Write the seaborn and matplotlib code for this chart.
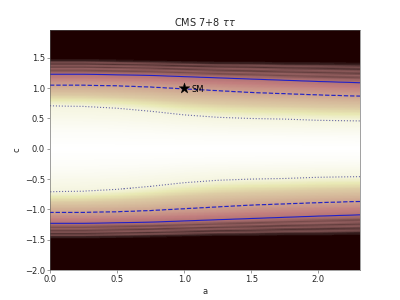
import numpy as np
import pandas as pd
import matplotlib
matplotlib.use("Agg")
import matplotlib.pyplot as plt
import seaborn as sns

# ---- data ----
a_knots = [0.0, 0.25, 0.5, 0.75, 1.0, 1.25, 1.5, 1.75, 2.0, 2.3]
c_68 = [0.71, 0.70, 0.67, 0.62, 0.56, 0.52, 0.50, 0.49, 0.47, 0.46]   # dotted contour |c|
c_95 = [1.05, 1.05, 1.04, 1.02, 0.99, 0.96, 0.93, 0.91, 0.89, 0.87]   # dashed contour |c|
c_99 = [1.23, 1.23, 1.22, 1.21, 1.19, 1.17, 1.15, 1.13, 1.11, 1.09]   # solid contour |c|
c_edge = [1.49, 1.49, 1.48, 1.47, 1.46, 1.45, 1.45, 1.44, 1.44, 1.43] # dark region begins
inner_pos = [0.0, 0.4, 1.0, 1.5, 2.0, 3.0]     # in contour-level units
inner_shade = [1.0, 0.97, 0.88, 0.62, 0.47, 0.31]
band_pos = [0.0, 0.15, 0.25, 0.35, 0.45, 0.55, 0.65, 0.75, 0.85, 1.0]  # solid -> edge
band_shade = [0.31, 0.23, 0.13, 0.21, 0.09, 0.18, 0.06, 0.14, 0.03, 0.0]
sm_point = {"a": [1.0], "c": [1.0], "label": ["SM"]}
title = r"CMS 7+8 $\tau\tau$"
x_ticks = [0.0, 0.5, 1.0, 1.5, 2.0]
y_ticks = [-2.0, -1.5, -1.0, -0.5, 0.0, 0.5, 1.0, 1.5]

# ---- build the likelihood-like field ----
a_grid = np.linspace(0.0, 2.31, 232)
c_grid = np.linspace(-2.0, 1.96, 397)
A, C = np.meshgrid(a_grid, c_grid)
level = np.zeros_like(A)
shade = np.zeros_like(A)
absc = np.abs(c_grid)
for j, av in enumerate(a_grid):
    d68 = np.interp(av, a_knots, c_68)
    d95 = np.interp(av, a_knots, c_95)
    d99 = np.interp(av, a_knots, c_99)
    edge = np.interp(av, a_knots, c_edge)
    lev = np.interp(absc, [0.0, d68, d95, d99, edge, 2.0], [0, 1, 2, 3, 4, 5])
    level[:, j] = lev
    col = np.interp(lev, inner_pos, inner_shade)
    t = (absc - d99) / (edge - d99)
    band = np.interp(t, band_pos, band_shade)
    col = np.where(absc > d99, band, col)
    col = np.where(absc > edge, 0.0, col)
    shade[:, j] = col

# ---- plot ----
sns.set_style("ticks", {"axes.edgecolor": "0.35", "xtick.color": "0.35",
                        "ytick.color": "0.35"})
plt.rcParams["font.family"] = ["DejaVu Sans"]
plt.rcParams["font.size"] = 12
fig = plt.figure(figsize=(8, 6), dpi=50)
ax = fig.add_axes([0.125, 0.1, 0.775, 0.8])

ax.pcolormesh(A, C, shade, cmap="pink", vmin=0, vmax=1, shading="auto",
              rasterized=True)
ax.contour(A, C, level, levels=[1], colors=["#6a6aa4"], linestyles=[":"],
           linewidths=1.6)
ax.contour(A, C, level, levels=[2], colors=["#2424c4"], linestyles=["--"],
           linewidths=1.7)
ax.contour(A, C, level, levels=[3], colors=["#2020c8"], linestyles=["-"],
           linewidths=1.6)

sm_df = pd.DataFrame(sm_point)
sns.scatterplot(data=sm_df, x="a", y="c", marker="*", s=260, color="black",
                edgecolor="black", linewidth=0.5, ax=ax, zorder=5, legend=False)
for _, r in sm_df.iterrows():
    ax.annotate(r["label"], (r["a"], r["c"]), xytext=(10, -5),
                textcoords="offset points", fontsize=12, color="black")

ax.set_xlim(0, 2.31)
ax.set_ylim(-2.0, 1.96)
ax.set_xticks(x_ticks)
ax.set_yticks(y_ticks)
ax.tick_params(length=4, width=1, labelsize=12, colors="0.15",
               color="0.45")
ax.set_xlabel("a", fontsize=12)
ax.set_ylabel("c", fontsize=12)
ax.set_title(title, fontsize=14)
for s in ax.spines.values():
    s.set_color("0.35")

fig.savefig("out.png", dpi=50)
